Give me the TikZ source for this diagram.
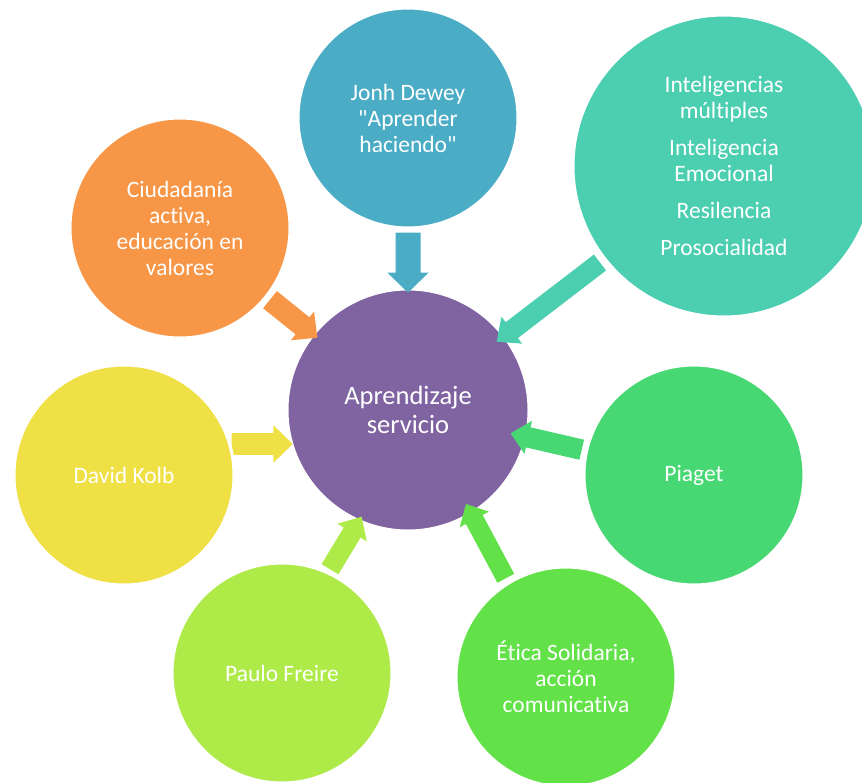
\documentclass[tikz,border=0pt]{standalone}
\usepackage{fontspec}
\newfontfamily\cfont{Carlito}[Ligatures=NoCommon]
\usetikzlibrary{calc}
\definecolor{cpurple}{HTML}{8064A2}
\definecolor{cblue}{HTML}{4BACC6}
\definecolor{corange}{HTML}{F79646}
\definecolor{cteal}{HTML}{4BCFB0}
\definecolor{cyellow}{HTML}{EFE046}
\definecolor{cpiaget}{HTML}{47D873}
\definecolor{cetica}{HTML}{62E248}
\definecolor{cfreire}{HTML}{AEEA48}
\newcommand{\bubfont}{\cfont\fontsize{23.5}{26}\selectfont}
\newcommand{\bigbubfont}{\cfont\fontsize{26.5}{28.5}\selectfont}
% #1 colour, #2 tail, #3 tip, #4 shaft half width, #5 head half width, #6 head length
\newcommand{\blockarrow}[6]{%
  \coordinate (hb) at ($(#3)!#6!(#2)$);
  \fill[#1] ($(#2)!#4!90:(#3)$) -- ($(hb)!#4!90:(#3)$) -- ($(hb)!#5!90:(#3)$)
    -- (#3) -- ($(hb)!#5!-90:(#3)$) -- ($(hb)!#4!-90:(#3)$) -- ($(#2)!#4!-90:(#3)$) -- cycle;}
\tikzset{
  bubble/.style={circle, inner sep=0pt, minimum size=220pt, draw=white, line width=3pt,
    text=white, align=center, font=\bubfont}
}
\begin{document}
\begin{tikzpicture}[x=1pt,y=-1pt]
\fill[white] (0,0) rectangle (862,782);
\useasboundingbox (0,0) rectangle (862,782);

\node[bubble, fill=cpurple, minimum size=242pt, font=\bigbubfont] (center) at (408,410) {Aprendizaje\\servicio};

% arrow end points
\coordinate (deweyT) at (408,232.7);  \coordinate (deweyH) at (408,292.7);
\coordinate (ciudT)  at (270,299.7);  \coordinate (ciudH)  at (317.3,337.7);
\coordinate (intT)   at (600,262.5);  \coordinate (intH)   at (496.7,341.7);
\coordinate (kolbT)  at (231.7,444);  \coordinate (kolbH)  at (292.7,444);
\coordinate (piaT)   at (581.7,449.7);\coordinate (piaH)   at (510.7,433.3);
\coordinate (freT)   at (330,569.2);  \coordinate (freH)   at (361.7,516.7);
\coordinate (etiT)   at (505.8,578.3);\coordinate (etiH)   at (466,504);

\blockarrow{cblue}{deweyT}{deweyH}{12.5pt}{20.5pt}{20pt}
\blockarrow{corange}{ciudT}{ciudH}{11pt}{18.5pt}{19pt}
\blockarrow{cteal}{intT}{intH}{10pt}{17pt}{19pt}
\blockarrow{cyellow}{kolbT}{kolbH}{10.8pt}{18.8pt}{19.4pt}
\blockarrow{cpiaget}{piaT}{piaH}{10.3pt}{17pt}{18pt}
\blockarrow{cfreire}{freT}{freH}{9.8pt}{17pt}{18.5pt}
\blockarrow{cetica}{etiT}{etiH}{9.5pt}{16.5pt}{17.5pt}

\node[bubble, fill=cblue] (dewey) at (408,118) {Jonh Dewey\\"Aprender\\haciendo"};
\node[bubble, fill=cteal, minimum size=302pt] (intel) at (724,166)
  {Inteligencias\\múltiples\\[11pt]Inteligencia\\Emocional\\[11pt]Resilencia\\[11pt]Prosocialidad};
\node[bubble, fill=corange] (ciud) at (180,228) {Ciudadanía\\activa,\\educación en\\valores};
\node[bubble, fill=cyellow] (kolb) at (124,475) {David Kolb};
\node[bubble, fill=cpiaget] (piaget) at (694,475) {Piaget};
\node[bubble, fill=cfreire] (freire) at (282,673) {Paulo Freire};
\node[bubble, fill=cetica] (etica) at (566,677) {Ética Solidaria,\\acción\\comunicativa};
\end{tikzpicture}
\end{document}
